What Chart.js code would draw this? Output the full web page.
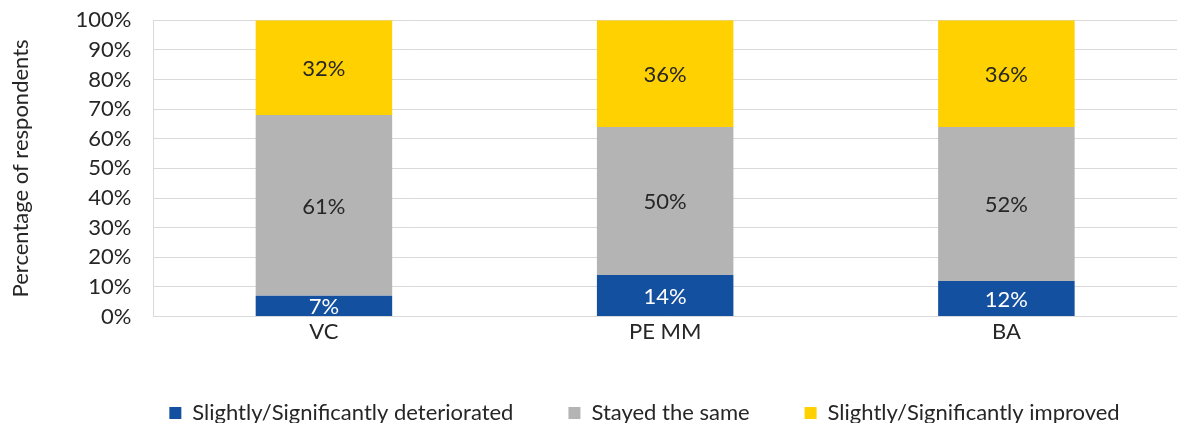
<!DOCTYPE html>
<html>
<head>
<meta charset="utf-8">
<script src="https://cdn.jsdelivr.net/npm/chart.js@4/dist/chart.umd.min.js"></script>
<style>
  html, body { margin: 0; padding: 0; background: #ffffff; overflow: hidden; }
  #wrap { width: 1177px; height: 423px; position: relative; overflow: hidden; }
  /* chart.js keeps extra room above the 100% label; pull it up out of view */
  #inner { position: absolute; left: 0; top: -15px; width: 1177px; height: 438px; }
</style>
</head>
<body>
<div id="wrap"><div id="inner"><canvas id="chart"></canvas></div></div>
<script>
const categories = ['VC', 'PE MM', 'BA'];
const deteriorated = [7, 14, 12];
const stayedSame = [61, 50, 52];
const improved = [32, 36, 36];
const yTicks = [0, 10, 20, 30, 40, 50, 60, 70, 80, 90, 100];

const FONT = 'Lato, "Open Sans", sans-serif';

// draws the % inside each bar segment
const barLabels = {
  id: 'barLabels',
  afterDatasetsDraw(chart) {
    const ctx = chart.ctx;
    ctx.save();
    ctx.font = '22px ' + FONT;
    ctx.textAlign = 'center';
    ctx.textBaseline = 'middle';
    chart.data.datasets.forEach((ds, i) => {
      const meta = chart.getDatasetMeta(i);
      meta.data.forEach((bar, j) => {
        const p = bar.getProps(['x', 'y', 'base'], true);
        ctx.fillStyle = ds.labelColor;
        ctx.fillText(ds.data[j] + '%', p.x, (p.y + p.base) / 2 + 1);
      });
    });
    ctx.restore();
  }
};

// legend in the original sits a bit right of the canvas centre
const legendShift = {
  id: 'legendShift',
  afterLayout(chart) {
    chart.legend.left += 54;
    chart.legend.right += 54;
  }
};

new Chart(document.getElementById('chart'), {
  type: 'bar',
  data: {
    labels: categories,
    datasets: [
      { label: 'Slightly/Significantly deteriorated', data: deteriorated, backgroundColor: '#1450a0', labelColor: '#ffffff' },
      { label: 'Stayed the same', data: stayedSame, backgroundColor: '#b4b4b4', labelColor: '#262626' },
      { label: 'Slightly/Significantly improved', data: improved, backgroundColor: '#ffd100', labelColor: '#262626' }
    ]
  },
  options: {
    responsive: true,
    maintainAspectRatio: false,
    animation: false,
    layout: { padding: { top: 0, right: 0, left: 4, bottom: -11 } },
    datasets: { bar: { barPercentage: 0.4, categoryPercentage: 1.0 } },
    plugins: {
      tooltip: { enabled: false },
      legend: {
        position: 'bottom',
        labels: {
          color: '#262626',
          font: { family: FONT, size: 22 },
          boxWidth: 12,
          boxHeight: 12,
          padding: 55
        }
      }
    },
    scales: {
      x: {
        stacked: true,
        grid: { display: false, drawTicks: false },
        border: { display: true, color: '#d9d9d9', width: 1 },
        ticks: { color: '#262626', font: { family: FONT, size: 22 }, padding: 2 }
      },
      y: {
        stacked: true,
        min: 0,
        max: 100,
        afterBuildTicks: axis => { axis.ticks = yTicks.map(v => ({ value: v })); },
        grid: { color: '#d9d9d9', lineWidth: 1, drawTicks: false },
        border: { display: true, color: '#d9d9d9', width: 1 },
        ticks: {
          color: '#262626',
          font: { family: FONT, size: 22 },
          padding: 22,
          autoSkip: false,
          callback: v => v + '%'
        },
        title: {
          display: true,
          text: 'Percentage of respondents',
          color: '#262626',
          font: { family: FONT, size: 22 },
          padding: { top: 4, bottom: 19 }
        }
      }
    }
  },
  plugins: [barLabels, legendShift]
});
</script>
</body>
</html>
